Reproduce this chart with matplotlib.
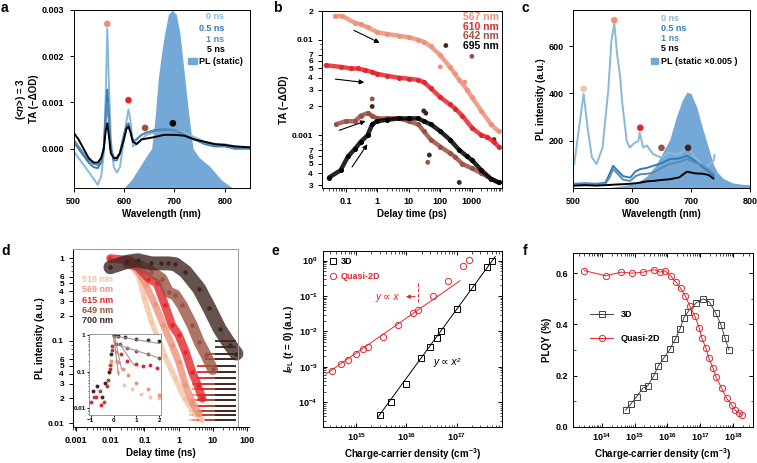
import numpy as np
import matplotlib
matplotlib.use('Agg')
import matplotlib.pyplot as plt
from matplotlib.ticker import FixedLocator, FixedFormatter, NullFormatter, LogLocator
from matplotlib.patches import Rectangle

plt.rcParams['font.family'] = ['Liberation Sans', 'DejaVu Sans']
plt.rcParams['font.weight'] = 'bold'
plt.rcParams['axes.labelweight'] = 'bold'
plt.rcParams['font.size'] = 6.5
plt.rcParams['mathtext.fontset'] = 'custom'
plt.rcParams['mathtext.rm'] = 'Liberation Sans:bold'
plt.rcParams['mathtext.it'] = 'Liberation Sans:italic:bold'
plt.rcParams['mathtext.bf'] = 'Liberation Sans:bold'
plt.rcParams['axes.linewidth'] = 0.7
plt.rcParams['xtick.major.width'] = 0.7
plt.rcParams['ytick.major.width'] = 0.7
plt.rcParams['xtick.minor.width'] = 0.5
plt.rcParams['ytick.minor.width'] = 0.5
plt.rcParams['xtick.major.size'] = 3
plt.rcParams['ytick.major.size'] = 3
plt.rcParams['xtick.minor.size'] = 1.8
plt.rcParams['ytick.minor.size'] = 1.8
plt.rcParams['axes.labelpad'] = 2

# colours
C_PEACH = '#f6c3a4'
C_SALMON = '#ee917a'
C_RED = '#e3262c'
C_BROWN = '#9a5142'
C_DARK = '#3e2622'
B_LIGHT = '#8ab8da'
B_MED = '#2f7db8'
B_GREY = '#5b8bb0'
PL_FILL = '#74a8d6'

# ---------------- panel a : TA spectra ----------------
wl_a = [500, 510, 520, 530, 540, 548, 555, 560, 564, 567, 570, 574, 580, 586, 592, 600,
        605, 609, 613, 618, 625, 635, 645, 660, 680, 700, 720, 740, 760, 780, 800, 820, 850]
ta_0ns = [-0.00005, -0.0002, -0.00035, -0.0005, -0.00065, -0.00078, -0.0006, -0.0001, 0.0012,
          0.0026, 0.0015, 0.0002, -0.0004, -0.00052, -0.0004, 0.0002, 0.0006, 0.00085, 0.0006,
          0.00005, 0.0001, 0.0002, 0.0003, 0.00035, 0.0004, 0.0004, 0.00035, 0.00025, 0.00015,
          0.0001, 0.0001, 0.00005, 0.0]
ta_05ns = [0.00015, 0.0, -0.00015, -0.0003, -0.0004, -0.00042, -0.0003, 0.0, 0.0008, 0.00128,
           0.0008, 0.0, -0.00025, -0.00025, -0.0001, 0.0003, 0.0005, 0.00055, 0.0004, 0.00015,
           0.0002, 0.0003, 0.00035, 0.0004, 0.00042, 0.0004, 0.0003, 0.0002, 0.0001, 0.00005,
           0.00005, 0.0, 0.0]
ta_1ns = [0.0002, 0.00005, -0.0001, -0.00025, -0.00033, -0.00035, -0.00025, 0.0, 0.0006, 0.001,
          0.0006, 0.0, -0.0002, -0.0002, -0.0001, 0.0003, 0.00048, 0.0005, 0.0004, 0.00015,
          0.0002, 0.0003, 0.00035, 0.00038, 0.0004, 0.0004, 0.0003, 0.0002, 0.00012, 0.00008,
          0.00006, 0.00003, 0.00002]
ta_5ns = [0.00035, 0.0002, 0.0, -0.0002, -0.0003, -0.0003, -0.0002, 0.0, 0.0004, 0.00055,
          0.0003, -0.0001, -0.0002, -0.0002, -0.0001, 0.0002, 0.00043, 0.00048, 0.00035, 0.00015,
          0.0001, 0.0002, 0.00022, 0.00025, 0.0003, 0.0003, 0.00028, 0.0002, 0.00015, 0.0001,
          0.00008, 0.00005, 0.00003]
wl_pl_a = [600, 615, 632, 645, 655, 662, 668, 675, 681, 688, 696, 704, 711, 716, 721, 728, 737,
           750, 770, 793, 815, 850]
pl_a = [-0.00085, -0.00067, -0.00038, -0.00015, 0.0, 0.0007, 0.0015, 0.0021, 0.0025, 0.0029,
        0.003, 0.0029, 0.0025, 0.002, 0.0015, 0.0008, 0.0, -0.0002, -0.00038, -0.00067,
        -0.00085, -0.00085]
dots_a_x = [567, 609, 642, 697]
dots_a_y = [0.0027, 0.00105, 0.00045, 0.00055]

# ---------------- panel b : TA kinetics ----------------
b567_t = [0.046, 0.08, 0.2, 0.3, 0.5, 1, 2, 5, 10, 20, 30, 50, 100, 200, 400, 700, 1000, 2000, 4000, 7000]
b567_y = [0.0177, 0.0177, 0.015, 0.0145, 0.0135, 0.012, 0.0115, 0.011, 0.0106, 0.0100, 0.0095,
          0.0085, 0.0069, 0.0052, 0.0038, 0.003, 0.0025, 0.0018, 0.0013, 0.0011]
b610_t = [0.024, 0.07, 0.15, 0.25, 0.4, 0.7, 1, 2, 5, 10, 20, 30, 50, 100, 200, 300, 500, 1000,
          2000, 3000, 5000, 7000]
b610_y = [0.0054, 0.0052, 0.005, 0.005, 0.0048, 0.0046, 0.0044, 0.0042, 0.004, 0.0039, 0.0038,
          0.0036, 0.0031, 0.0025, 0.0021, 0.0019, 0.0016, 0.0012, 0.001, 0.00096, 0.00085, 0.00076]
b642_t = [0.05, 0.1, 0.2, 0.3, 0.5, 0.7, 1, 2, 5, 10, 20, 30, 50, 100, 200, 300, 500, 1000, 2000,
          4000, 7000]
b642_y = [0.0013, 0.0014, 0.0014, 0.0016, 0.0017, 0.0016, 0.0015, 0.0015, 0.0015, 0.0014, 0.0013,
          0.0011, 0.0009, 0.00076, 0.00065, 0.00059, 0.0005, 0.00045, 0.0004, 0.00035, 0.00032]
b695_t = [0.03, 0.07, 0.12, 0.2, 0.3, 0.5, 0.7, 1, 2, 5, 10, 20, 30, 50, 100, 200, 400, 700,
          1000, 2000, 4000, 7000]
b695_y = [0.00036, 0.00043, 0.0006, 0.00072, 0.00085, 0.001, 0.0013, 0.0014, 0.00145, 0.0015,
          0.0015, 0.0015, 0.0014, 0.0013, 0.0011, 0.0009, 0.0007, 0.0006, 0.00055, 0.00043,
          0.00035, 0.00032]
b_out_t = [150, 30, 35, 45, 400, 5000, 0.7, 1000, 0.7, 40, 100, 300, 600]
b_out_y = [0.0087, 0.0018, 0.0017, 0.00062, 0.00032, 0.0009, 0.002, 0.0067, 0.0024, 0.00052,
           0.0052, 0.0044, 0.0036]
b_out_c = [C_DARK, C_DARK, C_DARK, C_DARK, C_DARK, C_DARK, C_DARK, C_BROWN, C_BROWN, C_BROWN,
           C_SALMON, C_SALMON, C_SALMON]
b_arrows = [((0.155, 0.0129), (1.45, 0.0090)),
            ((0.039, 0.0039), (0.48, 0.00354)),
            ((0.052, 0.0011), (0.52, 0.00144)),
            ((0.144, 0.00044), (0.55, 0.00085))]

# ---------------- panel c : PL spectra ----------------
wl_c0 = [502, 510, 518, 525, 532, 540, 550, 560, 565, 570, 575, 580, 583, 591, 596, 604, 611,
         613, 619, 625, 636, 650, 661, 678, 695, 710, 724, 738, 740]
pl_c0 = [101, 250, 399, 250, 130, 101, 170, 420, 620, 697, 560, 469, 370, 200, 171, 190, 200,
         235, 171, 180, 143, 128, 150, 140, 171, 120, 86, 115, 140]
wl_c = [502, 520, 540, 555, 562, 568, 575, 585, 597, 606, 614, 625, 636, 650, 664, 680, 693,
        707, 721, 730, 738]
pl_c05 = [18, 20, 18, 22, 60, 94, 75, 50, 44, 70, 80, 85, 94, 105, 122, 125, 136, 115, 86, 70, 51]
pl_c1 = [15, 18, 16, 18, 45, 80, 62, 35, 30, 50, 58, 60, 65, 85, 101, 110, 122, 108, 94, 75, 60]
pl_c5 = [10, 12, 10, 12, 13, 14, 15, 16, 18, 20, 23, 28, 30, 34, 37, 45, 69, 62, 60, 55, 40]
wl_pl_c = [555, 570, 590, 610, 625, 640, 652, 664, 675, 685, 693, 700, 710, 720, 726, 732, 738,
           745, 755, 770, 785, 800]
pl_c_static = [0, 5, 12, 25, 50, 95, 150, 205, 300, 370, 405, 400, 340, 250, 200, 150, 100, 65,
               40, 22, 16, 14]
dots_c_x = [518, 570, 614, 650, 695]
dots_c_y = [420, 710, 255, 170, 170]
dots_c_col = [C_PEACH, C_SALMON, C_RED, C_BROWN, C_DARK]

# ---------------- panel d : PL kinetics ----------------
d518_t = [0.037, 0.068, 0.1, 0.16, 0.23, 0.4, 0.8, 1.5, 3, 5]
d518_y = [0.85, 0.6, 0.33, 0.17, 0.118, 0.065, 0.035, 0.02, 0.013, 0.011]
d569_t = [0.037, 0.068, 0.11, 0.2, 0.36, 0.64, 1.0, 1.6, 2.5, 4]
d569_y = [0.9, 0.69, 0.48, 0.28, 0.155, 0.089, 0.056, 0.029, 0.018, 0.013]
d615_t = [0.01, 0.037, 0.068, 0.13, 0.23, 0.4, 0.64, 1.0, 1.6, 2.5, 3.6, 5]
d615_y = [1.0, 0.95, 0.76, 0.57, 0.5, 0.27, 0.155, 0.118, 0.074, 0.042, 0.029, 0.02]
d649_t = [0.033, 0.068, 0.16, 0.32, 0.51, 0.8, 1.27, 2.5, 4, 6.4, 10]
d649_y = [0.87, 0.83, 0.69, 0.57, 0.39, 0.36, 0.27, 0.155, 0.097, 0.067, 0.045]
d700_t = [0.01, 0.031, 0.064, 0.16, 0.3, 0.5, 0.8, 1.6, 4, 8, 16, 32, 50]
d700_y = [0.78, 0.91, 0.95, 0.87, 0.87, 0.87, 0.85, 0.69, 0.43, 0.25, 0.14, 0.09, 0.07]
floor_levels = [0.011, 0.0125, 0.014, 0.016, 0.019, 0.022, 0.026, 0.03, 0.035, 0.042, 0.05,
                0.06, 0.07, 0.085, 0.1]
floor_start = [2, 2.5, 3.5, 6, 12]
floor_top = [0.02, 0.03, 0.05, 0.07, 0.1]

# inset of d
i700_t = [-0.9, -0.7, -0.5, -0.35, -0.2, -0.1, 0, 0.2, 0.5, 1, 1.5, 2]
i700_y = [0.03, 0.04, 0.02, 0.05, 0.1, 0.3, 1.0, 0.95, 0.9, 0.8, 0.75, 0.69]
i649_t = [-0.85, -0.6, -0.4, -0.25, -0.15, -0.05, 0, 0.3, 0.6, 1, 1.5, 2]
i649_y = [0.02, 0.03, 0.015, 0.06, 0.15, 0.4, 1.0, 0.6, 0.45, 0.37, 0.3, 0.24]
i615_t = [-1, -0.75, -0.55, -0.3, -0.15, -0.05, 0, 0.1, 0.33, 0.6, 1, 1.3, 1.6, 1.9]
i615_y = [0.015, 0.02, 0.012, 0.04, 0.12, 0.5, 1.0, 0.6, 0.3, 0.2, 0.16, 0.14, 0.15, 0.127]
i569_t = [-0.1, 0, 0.1, 0.2, 0.4, 0.62, 1, 1.5, 2]
i569_y = [0.2, 0.9, 0.35, 0.19, 0.12, 0.083, 0.05, 0.033, 0.023]
i518_t = [-0.1, 0, 0.1, 0.2, 0.47, 0.8, 1.2, 1.6, 2]
i518_y = [0.15, 0.7, 0.2, 0.1, 0.043, 0.033, 0.025, 0.02, 0.019]
grey_fits = [([0, 0.22], [1.0, 0.08]), ([0.05, 0.35], [0.9, 0.12]), ([0.3, 0.9], [0.55, 0.15]),
             ([0.4, 1.9], [0.5, 0.25]), ([0.1, 2.0], [0.95, 0.6])]

# ---------------- panel e ----------------
e3d_n = [3.0e15, 4.9e15, 1e16, 1.95e16, 3.0e16, 4e16, 4.9e16, 1.03e17, 2.05e17, 4.1e17, 5.1e17]
e3d_i = [4.4e-5, 1.04e-4, 3.2e-4, 1.75e-3, 3.55e-3, 6.7e-3, 1e-2, 4.2e-2, 0.177, 0.65, 1.0]
eq2d_n = [3.25e14, 4.9e14, 6.7e14, 1e15, 1.35e15, 1.7e15, 3.4e15, 6.7e15, 1.35e16, 1.7e16,
          3.4e16, 6.7e16, 1.35e17, 1.8e17]
eq2d_i = [7.8e-4, 1.2e-3, 1.58e-3, 2.3e-3, 3.15e-3, 3.7e-3, 6.8e-3, 1.5e-2, 3.3e-2, 4.1e-2,
          0.103, 0.27, 0.72, 1.05]
fit3d_n = [2.7e15, 5.9e17]
fit3d_i = [3.8e-5, 1.3]
fitq_n = [2.5e14, 1.17e17]
fitq_i = [6.3e-4, 0.27]

# ---------------- panel f ----------------
fq_n = [10**v for v in [13.47, 14.12, 14.59, 14.92, 15.26, 15.6, 15.77, 15.92, 16.1, 16.25, 16.4,
                        16.54, 16.68, 16.83, 16.97, 17.04, 17.17, 17.26, 17.39, 17.47, 17.65,
                        17.8, 17.95, 18.05, 18.17, 18.26]]
fq_y = [0.61, 0.59, 0.604, 0.6, 0.604, 0.614, 0.604, 0.61, 0.589, 0.567, 0.541, 0.511, 0.472,
        0.433, 0.385, 0.348, 0.307, 0.267, 0.228, 0.196, 0.15, 0.111, 0.085, 0.065, 0.055, 0.046]
f3d_n = [10**v for v in [14.73, 14.89, 15.06, 15.25, 15.4, 15.58, 15.72, 15.9, 16.08, 16.24,
                         16.38, 16.5, 16.63, 16.88, 17.09, 17.28, 17.47, 17.63, 17.75, 17.87]]
f3d_y = [0.065, 0.089, 0.117, 0.151, 0.16, 0.198, 0.237, 0.27, 0.304, 0.343, 0.382, 0.426, 0.45,
         0.485, 0.5, 0.487, 0.443, 0.397, 0.346, 0.3]


def px_axes(fig, left, top, right, bottom):
    W, H = 757.0, 463.0
    return fig.add_axes([left / W, 1 - bottom / H, (right - left) / W, (bottom - top) / H])


def igor_log_ticks(ax, axis, labelled, unlabelled):
    vals = [v for v, s in labelled]
    labs = [s for v, s in labelled]
    a = ax.yaxis if axis == 'y' else ax.xaxis
    a.set_major_locator(FixedLocator(vals))
    a.set_major_formatter(FixedFormatter(labs))
    a.set_minor_locator(FixedLocator(unlabelled))
    a.set_minor_formatter(NullFormatter())


fig = plt.figure(figsize=(7.57, 4.63), dpi=100)

# ===== a =====
ax = px_axes(fig, 73.5, 10, 250, 188)
ax.fill_between(wl_pl_a, -0.00085, pl_a, color=PL_FILL, lw=0)
ax.plot(wl_a, ta_0ns, color=B_LIGHT, lw=1.4)
ax.plot(wl_a, ta_05ns, color=B_MED, lw=1.4)
ax.plot(wl_a, ta_1ns, color=B_GREY, lw=1.4)
ax.plot(wl_a, ta_5ns, color='black', lw=1.4)
ax.scatter(dots_a_x, dots_a_y, s=14, color=[C_SALMON, C_RED, C_BROWN, 'black'], zorder=5)
ax.set_xlim(500, 850)
ax.set_ylim(-0.00085, 0.003)
ax.set_xticks([500, 600, 700, 800])
ax.set_yticks([0, 0.001, 0.002, 0.003])
ax.set_yticklabels(['0.000', '0.001', '0.002', '0.003'])
ax.set_xlabel('Wavelength (nm)', fontsize=7)
ax.set_ylabel('(<$n$>) = 3\nTA (\u2212\u0394OD)', fontsize=7, linespacing=1.1)
for y, s, c in [(0.962, '0 ns', B_LIGHT), (0.897, '0.5 ns', B_MED), (0.837, '1 ns', B_GREY),
                (0.779, '5 ns', 'black')]:
    ax.text(0.855, y, s, color=c, transform=ax.transAxes, ha='right', va='center', fontsize=6.5)
ax.add_patch(Rectangle((0.65, 0.695), 0.05, 0.035, transform=ax.transAxes, color=PL_FILL))
ax.text(0.713, 0.713, 'PL (static)', transform=ax.transAxes, ha='left', va='center', fontsize=6.5)

# ===== b =====
ax = px_axes(fig, 322, 11, 502, 188)
for t, y, c in [(b567_t, b567_y, C_SALMON), (b610_t, b610_y, C_RED),
                (b642_t, b642_y, C_BROWN), (b695_t, b695_y, 'black')]:
    ax.plot(t, y, color=c, lw=3.2, alpha=0.85, solid_capstyle='round')
    ax.plot(t, y, 'o', color=c, ms=2.6)
ax.scatter(b_out_t, b_out_y, s=6, color=b_out_c)
for (x0, y0), (x1, y1) in b_arrows:
    ax.annotate('', xy=(x1, y1), xytext=(x0, y0),
                arrowprops=dict(arrowstyle='-|>', color='black', lw=0.8, mutation_scale=7))
ax.set_xscale('log')
ax.set_yscale('log')
ax.set_xlim(0.018, 9000)
ax.set_ylim(0.00028, 0.02)
igor_log_ticks(ax, 'y',
               [(0.02, '2'), (0.01, '0.01'), (0.007, '7'), (0.006, '6'), (0.005, '5'), (0.004, '4'),
                (0.003, '3'), (0.002, '2'), (0.001, '0.001'), (0.0007, '7'), (0.0006, '6'),
                (0.0005, '5'), (0.0004, '4'), (0.0003, '3')],
               [0.009, 0.008, 0.0009, 0.0008])
ax.tick_params(axis='y', labelsize=6)
ax.xaxis.set_major_locator(FixedLocator([0.1, 1, 10, 100, 1000]))
ax.xaxis.set_major_formatter(FixedFormatter(['0.1', '1', '10', '100', '1000']))
ax.xaxis.set_minor_locator(LogLocator(subs=np.arange(2, 10), numticks=20))
ax.xaxis.set_minor_formatter(NullFormatter())
ax.set_xlabel('Delay time (ps)', fontsize=7)
ax.set_ylabel('TA (\u2212\u0394OD)', fontsize=7)
for y, s, c in [(0.966, '567 nm', C_SALMON), (0.911, '610 nm', C_RED),
                (0.856, '642 nm', C_BROWN), (0.801, '695 nm', 'black')]:
    ax.text(0.98, y, s, color=c, transform=ax.transAxes, ha='right', va='center', fontsize=7.5)

# ===== c =====
ax = px_axes(fig, 573, 10, 750, 188)
ax.fill_between(wl_pl_c, 0, pl_c_static, color=PL_FILL, lw=0)
ax.plot(wl_c0, pl_c0, color=B_LIGHT, lw=1.4)
ax.plot(wl_c, pl_c05, color=B_MED, lw=1.4)
ax.plot(wl_c, pl_c1, color=B_GREY, lw=1.4)
ax.plot(wl_c, pl_c5, color='black', lw=1.4)
ax.scatter(dots_c_x, dots_c_y, s=14, color=dots_c_col, zorder=5)
ax.set_xlim(500, 800)
ax.set_ylim(0, 753)
ax.set_xticks([500, 600, 700, 800])
ax.set_yticks([200, 400, 600])
ax.set_xlabel('Wavelength (nm)', fontsize=7)
ax.set_ylabel('PL intensity (a.u.)', fontsize=7)
for y, s, c in [(0.953, '0 ns', B_LIGHT), (0.897, '0.5 ns', B_MED), (0.841, '1 ns', B_GREY),
                (0.781, '5 ns', 'black')]:
    ax.text(0.497, y, s, color=c, transform=ax.transAxes, ha='left', va='center', fontsize=6.5)
ax.add_patch(Rectangle((0.439, 0.695), 0.043, 0.035, transform=ax.transAxes, color=PL_FILL))
ax.text(0.497, 0.713, 'PL (static \u00d70.005 )', transform=ax.transAxes, ha='left',
        va='center', fontsize=6.5)

# ===== d =====
ax = px_axes(fig, 73, 249, 249.4, 427)
d_series = [(d518_t, d518_y, C_PEACH, 4), (d569_t, d569_y, C_SALMON, 5),
            (d615_t, d615_y, C_RED, 6), (d649_t, d649_y, C_BROWN, 8),
            (d700_t, d700_y, C_DARK, 10)]
for k, (t, y, c, w) in enumerate(d_series):
    for lev in floor_levels:
        if lev <= floor_top[k]:
            ax.hlines(lev, floor_start[k], 50, color=c, lw=1.3)
for t, y, c, w in d_series:
    ax.plot(t, y, color=c, lw=w, alpha=0.8, solid_capstyle='round')
    ax.plot(t, y, 'o', color=c, ms=2.2)
ax.set_xscale('log')
ax.set_yscale('log')
ax.set_xlim(0.0008, 120)
ax.set_ylim(0.009, 1.3)
igor_log_ticks(ax, 'y',
               [(1, '1'), (0.6, '6'), (0.5, '5'), (0.4, '4'), (0.3, '3'), (0.2, '2'), (0.1, '0.1'),
                (0.06, '6'), (0.05, '5'), (0.04, '4'), (0.03, '3'), (0.02, '2'), (0.01, '0.01')],
               [0.9, 0.8, 0.7, 0.09, 0.08, 0.07])
ax.tick_params(axis='y', labelsize=6)
ax.xaxis.set_major_locator(FixedLocator([0.001, 0.01, 0.1, 1, 10, 100]))
ax.xaxis.set_major_formatter(FixedFormatter(['0.001', '0.01', '0.1', '1', '10', '100']))
ax.xaxis.set_minor_locator(LogLocator(subs=np.arange(2, 10), numticks=20))
ax.xaxis.set_minor_formatter(NullFormatter())
ax.spines['right'].set_visible(False)
ax.spines['top'].set_color('#999999')
ax.spines['top'].set_bounds(0.0008, 55)
ax.axvline(55, color='#999999', lw=0.7)
ax.set_xlabel('Delay time (ns)', fontsize=7)
ax.set_ylabel('PL intensity (a.u.)', fontsize=7)
for y, s, c in [(0.83, '518 nm', C_PEACH), (0.774, '569 nm', C_SALMON), (0.713, '615 nm', C_RED),
                (0.657, '649 nm', C_BROWN), (0.597, '700 nm', C_DARK)]:
    ax.text(0.049, y, s, color=c, transform=ax.transAxes, ha='left', va='center', fontsize=6.5)

# inset
ia = px_axes(fig, 89, 334, 160.7, 415)
for t, y, c in [(i518_t, i518_y, C_PEACH), (i569_t, i569_y, C_SALMON), (i615_t, i615_y, C_RED),
                (i649_t, i649_y, C_BROWN), (i700_t, i700_y, C_DARK)]:
    ia.plot(t, y, 'o', color=c, ms=1.8)
for xs, ys in grey_fits:
    ia.plot(xs, ys, color='#9a9a9a', lw=0.8)
ia.set_yscale('log')
ia.set_xlim(-1.07, 2.06)
ia.set_ylim(0.0064, 1.1)
ia.set_xticks([-1, 0, 1, 2])
ia.set_yticks([0.01, 0.1, 1])
ia.set_yticklabels(['0.01', '0.1', '1'])
ia.yaxis.set_minor_formatter(NullFormatter())
ia.tick_params(labelsize=4.5, length=1.5, pad=1)
ia.tick_params(which='minor', length=1)
for s in ia.spines.values():
    s.set_color('#888888')
    s.set_linewidth(0.6)

# ===== e =====
ax = px_axes(fig, 322.7, 250.7, 501.7, 426.7)
ax.plot(fit3d_n, fit3d_i, color='black', lw=0.7)
ax.plot(fitq_n, fitq_i, color=C_RED, lw=0.7)
ax.plot(e3d_n, e3d_i, 's', mfc='none', mec='black', ms=4, mew=0.7, label='3D')
ax.plot(eq2d_n, eq2d_i, 'o', mfc='none', mec=C_RED, ms=4.5, mew=0.7, label='Quasi-2D')
ax.set_xscale('log')
ax.set_yscale('log')
ax.set_xlim(10**14.33, 10**17.9)
ax.set_ylim(10**-4.69, 10**0.28)
ax.set_yticks([1e-4, 1e-3, 1e-2, 1e-1, 1])
ax.set_xticks([1e15, 1e16, 1e17])
ax.tick_params(which='both', direction='in', top=True, right=True)
ax.text(4.1e15, 0.096, 'y \u221d x', color=C_RED, ha='center', va='center', fontsize=7.5,
        fontweight='normal', style='italic')
ax.annotate('', xy=(8.6e15, 0.096), xytext=(1.7e16, 0.096),
            arrowprops=dict(arrowstyle='-|>', color=C_RED, lw=0.7, mutation_scale=6))
ax.plot([1.7e16, 1.7e16], [0.069, 0.23], color=C_RED, lw=0.7, ls='--')
ax.text(6.5e16, 1.4e-3, 'y \u221d x\u00b2', color='black', ha='center', va='center',
        fontsize=7.5, fontweight='normal', style='italic')
ax.legend(loc='upper left', frameon=False, fontsize=6.5, handlelength=0.8, handletextpad=0.5,
          borderaxespad=0.3, labelspacing=0.7, labelcolor=['black', C_RED])
ax.set_xlabel('Charge-carrier density (cm$^{-3}$)', fontsize=7)
ax.set_ylabel('$I_{\\rm PL}$ ($t$ = 0) (a.u.)', fontsize=7)

# ===== f =====
ax = px_axes(fig, 572.7, 252.7, 753, 426.7)
ax.plot(f3d_n, f3d_y, '-s', color='#444444', mfc='none', mec='#444444', ms=4, mew=0.7, lw=0.7,
        label='3D')
ax.plot(fq_n, fq_y, '-o', color=C_RED, mfc='none', mec=C_RED, ms=4.5, mew=0.7, lw=0.7,
        label='Quasi-2D')
ax.set_xscale('log')
ax.set_xlim(10**13.12, 10**18.6)
ax.set_ylim(0, 0.68)
ax.set_yticks([0, 0.2, 0.4, 0.6])
ax.set_yticklabels(['0.0', '0.2', '0.4', '0.6'])
ax.set_yticks([0.1, 0.3, 0.5], minor=True)
ax.set_xticks([1e14, 1e15, 1e16, 1e17, 1e18])
ax.tick_params(which='both', direction='in', top=True, right=True)
ax.legend(loc='center left', bbox_to_anchor=(0.05, 0.575), frameon=False, fontsize=6.5,
          handlelength=2.6, labelspacing=1.6)
ax.set_xlabel('Charge-carrier density (cm$^{-3}$)', fontsize=7)
ax.set_ylabel('PLQY (%)', fontsize=7)

# panel letters
for x, y, s in [(1, 12, 'a'), (273, 12, 'b'), (521, 12, 'c'), (1, 255, 'd'), (272, 255, 'e'),
                (523, 255, 'f')]:
    fig.text(x / 757, 1 - y / 463, s, fontsize=10, fontweight='bold', va='baseline')

fig.savefig('out.png', dpi=100)
